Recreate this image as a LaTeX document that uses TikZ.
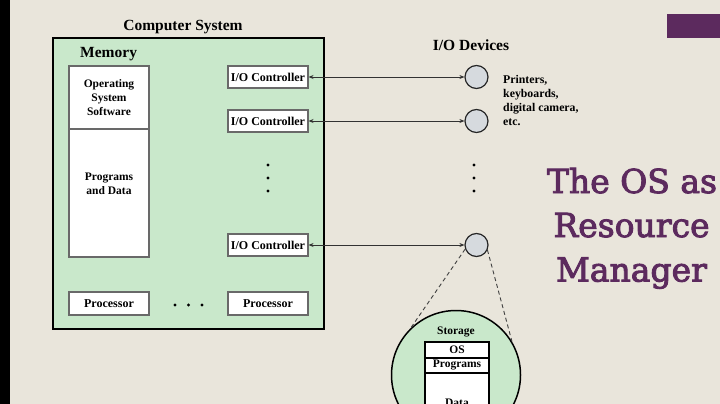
\documentclass[tikz,border=0pt]{standalone}
\usepackage{fontspec}
\setmainfont{Liberation Serif}
\newfontfamily\titlefont{DejaVu Serif}
\newcommand{\strokedtext}[1]{\special{pdf:literal direct 2 Tr 0.9 w}#1\special{pdf:literal direct 0 Tr}}
\usetikzlibrary{arrows.meta}
\definecolor{bg}{RGB}{233,229,219}
\definecolor{sysgreen}{RGB}{201,232,203}
\definecolor{devgray}{RGB}{214,218,222}
\definecolor{ospurple}{RGB}{92,42,94}
\definecolor{boxedge}{RGB}{105,105,105}
\definecolor{linkgray}{RGB}{50,50,50}
\begin{document}
\begin{tikzpicture}[x=1pt,y=-1pt,
  wbox/.style={draw=boxedge, line width=1.1pt, fill=white, inner sep=0pt, minimum width=80pt, font=\fontsize{12}{14}\selectfont\bfseries},
  ctrl/.style={wbox, minimum height=22pt},
  proc/.style={wbox, minimum height=23pt},
  dev/.style={circle, draw=black!85, line width=1.2pt, fill=devgray, minimum size=23pt, inner sep=0pt},
  link/.style={draw=linkgray, line width=0.9pt, {Stealth[length=5pt,width=4pt]}-{Stealth[length=5pt,width=4pt]}},
  zoomline/.style={draw=black!75, line width=0.9pt, dash pattern=on 4pt off 3pt},
  heading/.style={font=\fontsize{15.5}{18}\selectfont\bfseries, inner sep=0pt},
  smalltext/.style={font=\fontsize{12}{14}\selectfont\bfseries, inner sep=0pt},
  stbox/.style={draw=black, line width=1.1pt, fill=white, inner sep=0pt, minimum width=64pt, font=\fontsize{11.5}{13}\selectfont\bfseries},
  title/.style={font=\titlefont\fontsize{33}{40}\selectfont, text=ospurple, inner sep=0pt, anchor=base},
  dot/.style={fill=black}
]
\useasboundingbox (0,0) rectangle (720,404);
\clip (0,0) rectangle (720,404);
% background
\fill[bg] (0,0) rectangle (720,404);
\fill[black] (0,0) rectangle (10,404);
\fill[ospurple] (667,14) rectangle (720,38);

% computer system
\node[heading] (cstitle) at (183,27) {Computer System};
\node[draw=black, line width=1.5pt, fill=sysgreen, minimum width=271pt, minimum height=291pt, inner sep=0pt] (sys) at (188.5,183.5) {};
\node[heading, anchor=west] (memlabel) at (80,54) {Memory};

\node[wbox, minimum height=63pt, align=center, font=\fontsize{11.5}{14}\selectfont\bfseries] (oss) at (109,97.5) {Operating\\System\\Software};
\node[wbox, minimum height=128pt] (pdbox) at (109,193) {};
\node[smalltext, align=center, font=\fontsize{11.5}{14}\selectfont\bfseries] (pdtext) at (109,184) {Programs\\and Data};

\node[ctrl] (c1) at (268,77) {I/O Controller};
\node[ctrl] (c2) at (268,121) {I/O Controller};
\node[ctrl] (c3) at (268,245) {I/O Controller};
\fill[dot] (268,165) circle (1.7pt) (268,178) circle (1.7pt) (268,191) circle (1.7pt);

\node[proc] (p1) at (109,303.5) {Processor};
\node[proc] (p2) at (268,303.5) {Processor};
\fill[dot] (175,305) circle (1.7pt) (188.5,305) circle (1.7pt) (202,305) circle (1.7pt);

% devices
\node[heading] (iodev) at (471,45) {I/O Devices};
\node[dev] (d1) at (476.5,77) {};
\node[dev] (d2) at (476.5,121) {};
\node[dev] (d3) at (476.5,245) {};
\fill[dot] (474,165) circle (1.7pt) (474,178) circle (1.7pt) (474,191) circle (1.7pt);
\node[smalltext, align=left, anchor=west, font=\fontsize{11.8}{14}\selectfont\bfseries] (devtext) at (503,100.5) {Printers,\\keyboards,\\digital camera,\\etc.};

\draw[link] (c1.east) -- (d1.west);
\draw[link] (c2.east) -- (d2.west);
\draw[link] (c3.east) -- (d3.west);

% storage
\node[circle, draw=black, line width=1.5pt, fill=sysgreen, minimum size=129pt, inner sep=0pt] (stor) at (456,375) {};
\draw[zoomline] (d3.200) -- (stor.134);
\draw[zoomline] (d3.335) -- (stor.31);
\node[smalltext, font=\fontsize{11.5}{13}\selectfont\bfseries] (stlabel) at (456,332) {Storage};
\node[stbox, minimum height=16pt] (sos) at (457,350) {OS};
\node[stbox, minimum height=15pt] (sprog) at (457,365.5) {Programs};
\node[stbox, minimum height=50pt, anchor=north] (sdata) at (457,373) {};
\node[smalltext, anchor=base, font=\fontsize{11.5}{13}\selectfont\bfseries] (sdatatext) at (457,406) {Data};

% title
\node[title] (t1) at (632,193) {\strokedtext{The OS as}};
\node[title] (t2) at (631.5,237) {\strokedtext{Resource}};
\node[title] (t3) at (631.5,281.5) {\strokedtext{Manager}};
\end{tikzpicture}
\end{document}
